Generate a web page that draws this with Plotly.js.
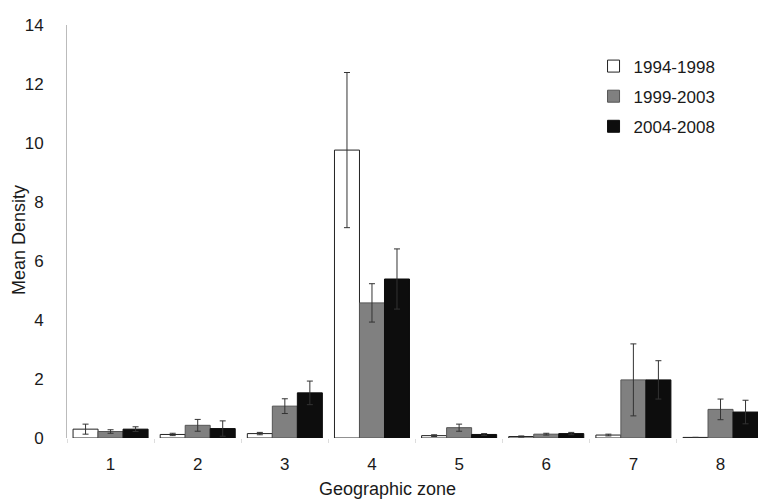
<!DOCTYPE html>
<html>
<head>
<meta charset="utf-8">
<script src="https://cdn.plot.ly/plotly-3.0.1.min.js"></script>
<style>html,body{margin:0;padding:0;background:#fff;}#chart{width:758px;height:499px;}</style>
</head>
<body>
<div id="chart"></div>
<script>
const zones = ['1','2','3','4','5','6','7','8'];
const seriesNames = ['1994-1998','1999-2003','2004-2008'];
const p1994 = [0.30, 0.12, 0.15, 9.76, 0.08, 0.05, 0.10, 0.02];
const p1994Err = [0.17, 0.04, 0.04, 2.63, 0.03, 0.02, 0.03, 0.00];
const p1999 = [0.22, 0.43, 1.08, 4.58, 0.35, 0.13, 1.97, 0.97];
const p1999Err = [0.06, 0.20, 0.25, 0.65, 0.12, 0.03, 1.22, 0.35];
const p2004 = [0.30, 0.32, 1.53, 5.39, 0.12, 0.15, 1.97, 0.88];
const p2004Err = [0.08, 0.26, 0.40, 1.02, 0.03, 0.04, 0.65, 0.40];
const yTicks = [0,2,4,6,8,10,12,14];

const fills = ['#ffffff','#808080','#0d0d0d'];
const outlines = ['#222222','#555555','#0d0d0d'];
const vals = [p1994, p1999, p2004];
const errs = [p1994Err, p1999Err, p2004Err];

const traces = vals.map((v,i)=>({
  type:'bar', name:seriesNames[i], x:zones, y:v,
  legendgroup:'g'+i,
  marker:{color:fills[i], line:{color:outlines[i], width:1}},
  error_y:{type:'data', array:errs[i], visible:true, color:'#333', thickness:1, width:3}
}));

const fam = '"Liberation Sans", Arial, sans-serif';
const font = {family:fam, size:17, color:'#1a1a1a'};
const layout = {
  width:758, height:499,
  margin:{l:67, r:0, t:25, b:61},
  paper_bgcolor:'#fff', plot_bgcolor:'#fff',
  font:font,
  barmode:'group', bargap:0.139, bargroupgap:0,
  showlegend:true,
  legend:{x:0.762, y:0.943, xanchor:'left', yanchor:'top', font:{family:fam, size:17, color:'#1a1a1a'},
          bgcolor:'rgba(0,0,0,0)', tracegroupgap:5, itemwidth:30},
  xaxis:{type:'category', range:[-0.5,7.43], showgrid:false, zeroline:false, showline:false,
         ticks:'outside', tickson:'boundaries', ticklen:4, tickcolor:'#ddd',
         ticklabelstandoff:14, tickfont:{size:17}},
  yaxis:{range:[0,14], tickvals:yTicks, ticktext:yTicks.map(String), showgrid:false, zeroline:false,
         showline:true, linecolor:'#bbb', linewidth:1, ticks:'', ticklabelstandoff:19, tickfont:{size:17}},
  annotations:[
    {text:'Geographic zone', xref:'paper', yref:'paper', x:(387-67)/691, y:(438-489)/413,
     xanchor:'center', yanchor:'middle', showarrow:false, font:{size:18}},
    {text:'Mean Density', xref:'paper', yref:'paper', x:(19-67)/691, y:(438-240)/413,
     xanchor:'center', yanchor:'middle', textangle:-90, showarrow:false, font:{size:18}}
  ]
};
Plotly.newPlot('chart', traces, layout, {displayModeBar:false, staticPlot:true});
</script>
</body>
</html>
